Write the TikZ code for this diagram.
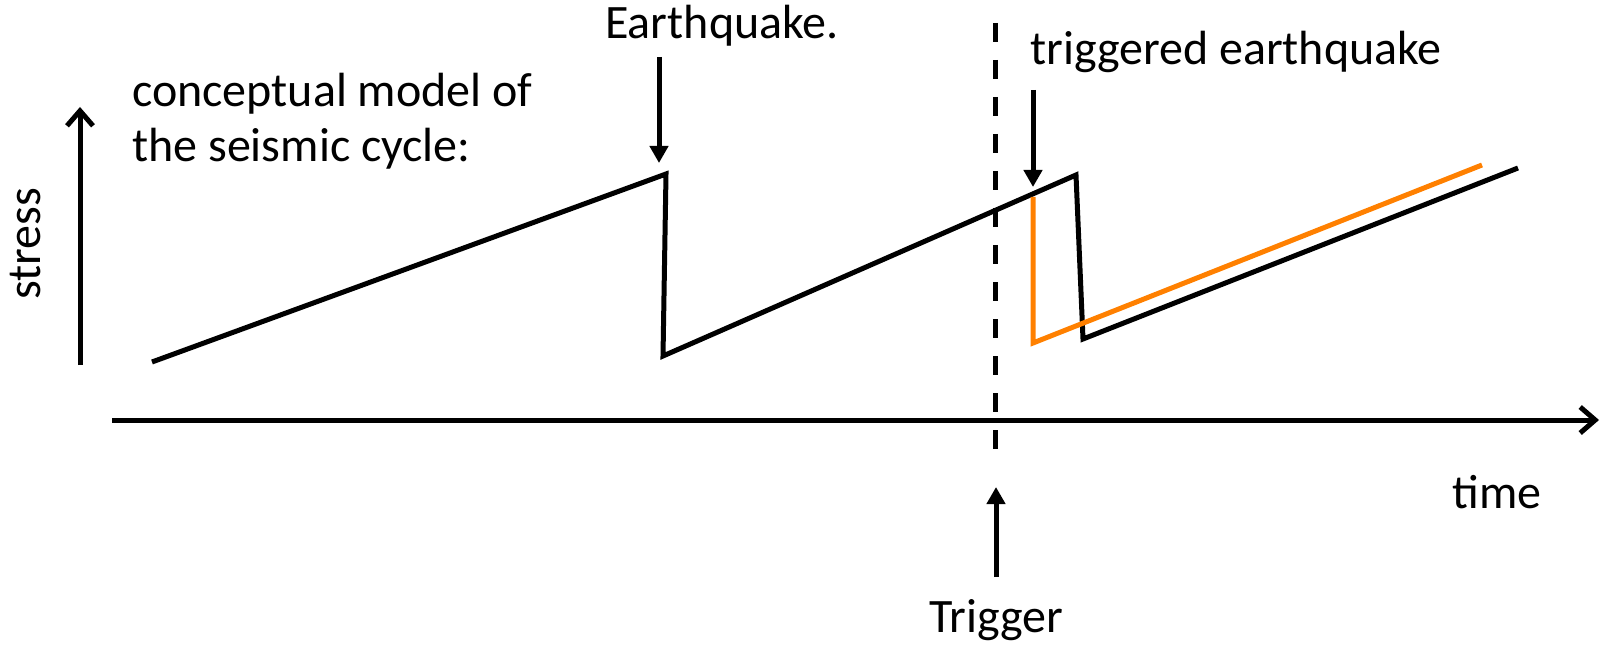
\documentclass[tikz,border=0pt]{standalone}
\usepackage{fontspec}
\setmainfont{Carlito}
\usetikzlibrary{arrows.meta}
\definecolor{quakeorange}{RGB}{255,128,0}
\begin{document}
\begin{tikzpicture}[x=1pt,y=-1pt,
  lbl/.style={inner sep=0pt, font=\fontsize{48}{58}\selectfont},
  axisline/.style={line width=5pt, -{Straight Barb[length=15pt,width=26pt]}},
  pointer/.style={line width=5pt, -{Triangle[length=17pt,width=18pt]}},
  curve/.style={line width=5pt, line join=miter},
  triggerline/.style={line width=5pt, dash pattern=on 19pt off 18pt},
]
\useasboundingbox (0,0) rectangle (1604,647);

% axes
\coordinate (sbot) at (80,365);
\coordinate (stop) at (80,107);
\draw[axisline] (sbot) -- (stop);
\coordinate (tleft) at (112,420);
\coordinate (tright) at (1599,420);
\draw[axisline] (tleft) -- (tright);

% labels
\node[lbl, rotate=90, anchor=base] (stress) at (40,244) {stress};
\node[lbl, anchor=base] (time) at (1497,508) {time};
\node[lbl, anchor=base west] (concept1) at (132,107) {conceptual model of};
\node[lbl, anchor=base west] (concept2) at (132,162) {the seismic cycle:};
\node[lbl, anchor=base] (eqlabel) at (722,39) {Earthquake.};
\node[lbl, anchor=base west] (trigeqlabel) at (1030,65) {triggered earthquake};
\node[lbl, anchor=base] (triglabel) at (996,632) {Trigger};

% trigger dashed line
\coordinate (dtop) at (995,23);
\coordinate (dbot) at (995,455);
\draw[triggerline] (dtop) -- (dbot);

% black sawtooth
\coordinate (b0) at (152,362);
\coordinate (b1) at (666,174);
\coordinate (b2) at (663,356);
\coordinate (b3) at (1076,175);
\coordinate (b4) at (1083,339);
\coordinate (b5) at (1518,168);
\draw[curve] (b0) -- (b1) -- (b2) -- (b3) -- (b4) -- (b5);

% orange (triggered) path
\coordinate (o0) at (1033,197);
\coordinate (o1) at (1033,343);
\coordinate (o2) at (1482,165);
\draw[curve, quakeorange] (o0) -- (o1) -- (o2);

% pointer arrows
\coordinate (eqa) at (659,57);
\coordinate (eqb) at (659,163);
\draw[pointer] (eqa) -- (eqb);
\coordinate (tea) at (1033,90);
\coordinate (teb) at (1033,187);
\draw[pointer] (tea) -- (teb);
\coordinate (tra) at (996,577);
\coordinate (trb) at (996,487);
\draw[pointer] (tra) -- (trb);
\end{tikzpicture}
\end{document}
